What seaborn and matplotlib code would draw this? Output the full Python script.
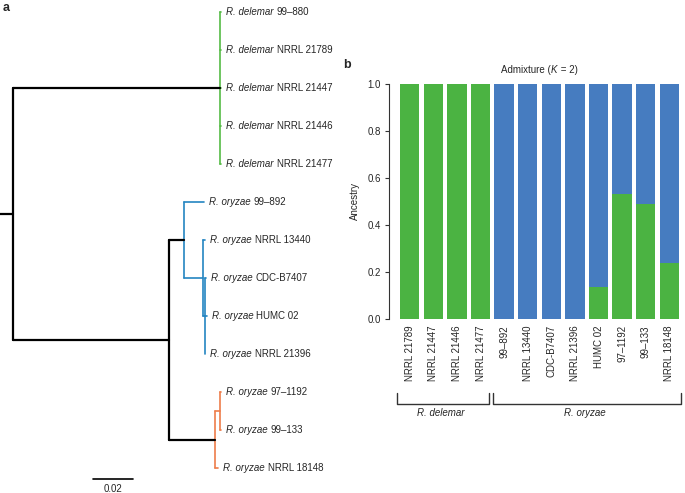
import matplotlib
matplotlib.use("Agg")
import matplotlib.pyplot as plt
import seaborn as sns
import pandas as pd

sns.set_style("ticks")
plt.rcParams['font.family'] = ['Liberation Sans', 'DejaVu Sans']
plt.rcParams['font.size'] = 7

# ---------------- data ----------------
bar_labels = ["NRRL 21789", "NRRL 21447", "NRRL 21446", "NRRL 21477",
              "99–892", "NRRL 13440", "CDC-B7407", "NRRL 21396",
              "HUMC 02", "97–1192", "99–133", "NRRL 18148"]
green_frac = [1.0, 1.0, 1.0, 1.0, 0.0, 0.0, 0.0, 0.0, 0.136, 0.532, 0.489, 0.238]
yticks = [0.0, 0.2, 0.4, 0.6, 0.8, 1.0]
group_names = ["R. delemar", "R. oryzae"]

delemar_tips = ["99–880", "NRRL 21789", "NRRL 21447", "NRRL 21446", "NRRL 21477"]
delemar_tip_bl = [0.0005, 0.0005, 0.0005, 0.0005, 0.0005]
blue_tips = ["99–892", "NRRL 13440", "CDC-B7407", "HUMC 02", "NRRL 21396"]
blue_tip_bl = [0.010, 0.001, 0.0005, 0.0008, 0.0]
orange_tips = ["97–1192", "99–133", "NRRL 18148"]
orange_tip_bl = [0.0005, 0.0005, 0.0015]
# internal branch lengths (substitutions/site)
bl_root = 0.0065
bl_delemar = 0.1035
bl_oryzae = 0.078
bl_blue1, bl_blue2, bl_blue3 = 0.0075, 0.0095, 0.001
bl_orange1, bl_orange2 = 0.023, 0.0025
scale_len = 0.02

# colors
tree_green, tree_blue, tree_orange = "#55BB45", "#2485C1", "#EE7D4A"
bar_green, bar_blue = "#4BB342", "#467CC0"

# ---------------- tree structure ----------------
def leaf(sp, name, bl):
    return {"sp": sp, "name": name, "bl": bl, "children": [], "color": None}

def node(bl, children, color=None):
    return {"bl": bl, "children": children, "color": color}

delemar_clade = node(bl_delemar, [leaf("R. delemar", n, b) for n, b in zip(delemar_tips, delemar_tip_bl)], tree_green)
blue_leaves = [leaf("R. oryzae", n, b) for n, b in zip(blue_tips, blue_tip_bl)]
blue_clade = node(bl_blue1, [blue_leaves[0],
                             node(bl_blue2, [blue_leaves[1],
                                             node(bl_blue3, blue_leaves[2:])])], tree_blue)
orange_leaves = [leaf("R. oryzae", n, b) for n, b in zip(orange_tips, orange_tip_bl)]
orange_clade = node(bl_orange1, [node(bl_orange2, orange_leaves[:2]), orange_leaves[2]], tree_orange)
root = node(bl_root, [delemar_clade, node(bl_oryzae, [blue_clade, orange_clade])], "black")

# ---------------- figure ----------------
W, H = 685, 493
fig = plt.figure(figsize=(W / 100, H / 100), dpi=100)

# tree axes covering whole figure; x in substitution units, y in leaf index
PX = 2000.0  # pixels per unit
ax_t = fig.add_axes([0, 0, 1, 1])
ax_t.set_xlim(0, W / PX)
y0, dy = 12.0, 38.0
ax_t.set_ylim((H - y0) / dy, -y0 / dy)
ax_t.axis("off")
ax_t.patch.set_alpha(0)

counter = [0]
label_off = 5 / PX

def draw_label(x, y, sp, name):
    t1 = ax_t.text(x, y, sp, style="italic", fontsize=7, va="center", ha="left")
    ax_t.annotate(name, xy=(1, 0), xycoords=t1, xytext=(2.2, 0), textcoords="offset points",
                  fontsize=7, va="bottom", ha="left")

def draw(n, x_parent, parent_color):
    x = x_parent + n["bl"]
    col = n["color"] or parent_color
    if not n["children"]:
        y = counter[0]
        counter[0] += 1
        draw_label(x + label_off, y, n["sp"], n["name"])
    else:
        ys = [draw(c, x, col) for c in n["children"]]
        y = (ys[0] + ys[-1]) / 2
        lw = 1.6 if col == "black" else 1.2
        ax_t.plot([x, x], [ys[0], ys[-1]], color=col, lw=lw, solid_capstyle="round")
    lw = 1.6 if parent_color == "black" else 1.2
    ax_t.plot([x_parent, x], [y, y], color=parent_color, lw=lw, solid_capstyle="round")
    return y

draw(root, 0.0, "black")

# scale bar
sb_x0 = 93 / PX
sb_y = (479 - y0) / dy
ax_t.plot([sb_x0, sb_x0 + scale_len], [sb_y, sb_y], color="black", lw=1.2)
ax_t.text(sb_x0 + scale_len / 2, (489 - y0) / dy, f"{scale_len:.2f}", ha="center", va="center", fontsize=7)

# panel letters
fig.text(3 / W, 1 - 8 / H, "a", fontsize=9, fontweight="bold", ha="left", va="center")
fig.text(343 / W, 1 - 65 / H, "b", fontsize=9, fontweight="bold", ha="left", va="center")

# ---------------- admixture bar chart ----------------
df = pd.DataFrame({"strain": bar_labels, "green": green_frac})
df["total"] = 1.0

ax_left, ax_right, ax_top, ax_bot = 389, 684, 84, 319
ax_b = fig.add_axes([ax_left / W, 1 - ax_bot / H, (ax_right - ax_left) / W, (ax_bot - ax_top) / H])
sns.barplot(data=df, x="strain", y="total", color=bar_blue, saturation=1, width=0.82,
            errorbar=None, ax=ax_b)
sns.barplot(data=df, x="strain", y="green", color=bar_green, saturation=1, width=0.82,
            errorbar=None, ax=ax_b)
for p in ax_b.patches:
    p.set_linewidth(0)

pitch = 23.6
first_center = 409.7
ax_b.set_xlim(-(first_center - ax_left) / pitch, (ax_right - first_center) / pitch)
ax_b.set_ylim(0, 1)
ax_b.set_yticks(yticks)
ax_b.set_yticklabels([f"{v:.1f}" for v in yticks])
ax_b.set_xlabel("")
ax_b.set_ylabel("Ancestry", fontsize=7, labelpad=5, style="normal")
ax_b.tick_params(axis="y", direction="out", length=3, width=0.8, pad=3, labelsize=7, color="#333333")
ax_b.tick_params(axis="x", length=0, pad=4.5, labelsize=7, labelrotation=90)
for lab in ax_b.get_xticklabels():
    lab.set_va("top")
for s in ["top", "right", "bottom"]:
    ax_b.spines[s].set_visible(False)
ax_b.spines["left"].set_linewidth(0.8)
ax_b.spines["left"].set_color("#333333")
ax_b.patch.set_alpha(0)

# title with italic K
k_x = (554 - first_center) / pitch
k_y = 1 + (ax_top - 70) / (ax_bot - ax_top)
tk = ax_b.text(k_x, k_y, "K", style="italic", fontsize=7, ha="center", va="center", clip_on=False)
ax_b.annotate("Admixture (", xy=(0, 0), xycoords=tk, xytext=(-0.3, 0), textcoords="offset points",
              fontsize=7, ha="right", va="bottom")
ax_b.annotate(" = 2)", xy=(1, 0), xycoords=tk, xytext=(0.3, 0), textcoords="offset points",
              fontsize=7, ha="left", va="bottom")

# group brackets
def py(p):
    return (ax_bot - p) / (ax_bot - ax_top)

br_top, br_bot, br_lab = py(393), py(404), py(413)
brackets = [(-0.54, 3.36), (3.53, 11.50)]
for (xa, xb), name in zip(brackets, group_names):
    ax_b.plot([xa, xa, xb, xb], [br_top, br_bot, br_bot, br_top], color="#333333", lw=1.0,
              clip_on=False)
    ax_b.text((xa + xb) / 2 - 0.1, br_lab, name, style="italic", fontsize=7, ha="center",
              va="center", clip_on=False)

fig.savefig("out.png", dpi=100)
